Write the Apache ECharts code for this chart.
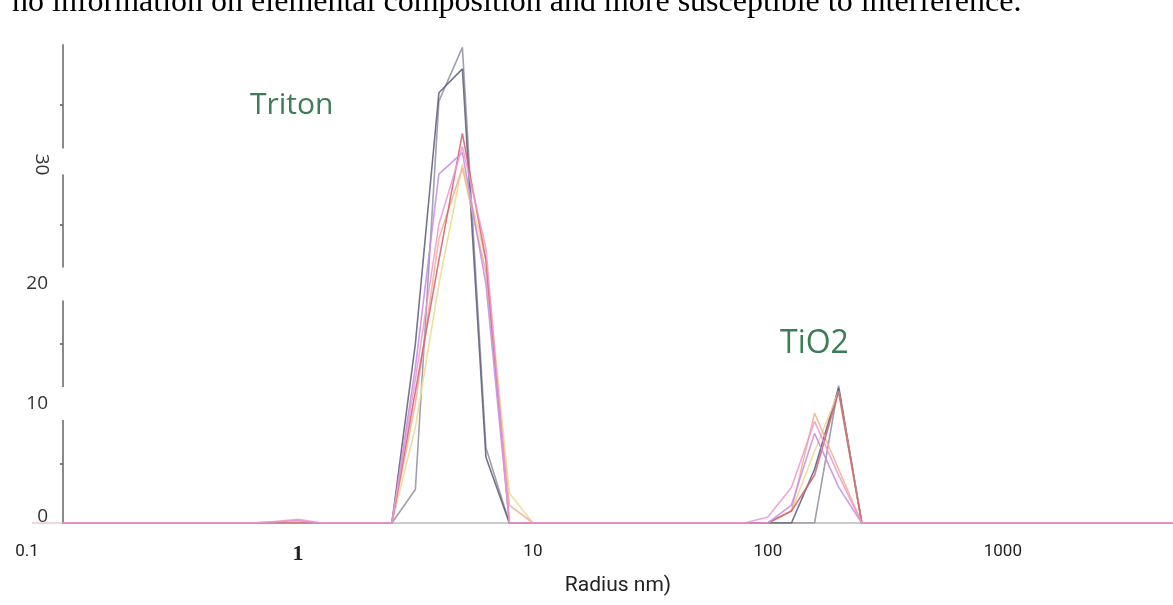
<!DOCTYPE html>
<html>
<head>
<meta charset="utf-8">
<script src="https://cdn.jsdelivr.net/npm/echarts@6/dist/echarts.min.js"></script>
<style>
  html, body { margin: 0; padding: 0; background: #fff; }
  #main { width: 1173px; height: 605px; }
</style>
</head>
<body>
<div id="main"></div>
<script>
// radius bins (nm), shared by all runs
const radius = [0.1, 0.63, 0.79, 1.0, 1.26, 2.51, 3.16, 3.98, 5.01, 6.31, 7.94, 10.0, 79.4, 100, 126, 158, 200, 251, 5300];

// intensity (%) for each run
const runGrey   = [0, 0, 0, 0, 0, 0, 2.8, 35.3, 39.8, 6.3, 0, 0, 0, 0, 0, 0, 11.5, 0, 0];
const runSlate  = [0, 0, 0, 0, 0, 0, 15, 36, 38, 5.5, 0, 0, 0, 0, 0, 4.5, 11.3, 0, 0];
const runRed    = [0, 0, 0, 0, 0, 0, 11, 22, 32.6, 22, 0, 0, 0, 0, 1, 4, 11, 0, 0];
const runOrange = [0, 0, 0, 0, 0, 0, 10, 23.8, 29.7, 21, 1.5, 0, 0, 0, 1, 9.2, 4.5, 0, 0];
const runYellow = [0, 0, 0, 0, 0, 0, 8, 20, 30, 22, 2.5, 0, 0, 0, 1, 6, 11, 0, 0];
const runPink   = [0, 0, 0.1, 0.3, 0, 0, 12, 25, 31.5, 23, 0, 0, 0, 0.5, 3, 8.5, 4, 0, 0];
const runPurple = [0, 0, 0.1, 0.2, 0, 0, 13, 29.2, 31, 20, 0, 0, 0, 0, 1.5, 7.5, 3, 0, 0];

const yTicks = [0, 10, 20, 30, 40];

const runs = [
  { name: 'run1', data: runGrey,   color: 'rgba(150,150,165,0.9)' },
  { name: 'run2', data: runSlate,  color: 'rgba(100,100,125,0.9)' },
  { name: 'run3', data: runYellow, color: 'rgba(235,220,150,0.9)' },
  { name: 'run4', data: runOrange, color: 'rgba(243,178,150,0.9)' },
  { name: 'run5', data: runRed,    color: 'rgba(210,95,110,0.85)' },
  { name: 'run6', data: runPurple, color: 'rgba(195,140,230,0.85)' },
  { name: 'run7', data: runPink,   color: 'rgba(238,150,205,0.85)' }
];

const chart = echarts.init(document.getElementById('main'));

chart.setOption({
  backgroundColor: '#fff',
  animation: false,
  grid: { left: 63, right: 0, top: 45, bottom: 82 },
  xAxis: {
    type: 'log',
    logBase: 10,
    min: 0.1,
    max: 5300,
    name: 'Radius nm)',
    nameLocation: 'middle',
    nameGap: 52,
    nameTextStyle: { fontSize: 21, color: '#222', fontFamily: 'Liberation Sans Narrow, Roboto, sans-serif' },
    axisLine: { lineStyle: { color: '#bbb', width: 1.5 } },
    axisTick: { show: false },
    splitLine: { show: false },
    axisLabel: {
      margin: 20,
      showMaxLabel: false,
      fontSize: 17,
      color: '#222',
      fontFamily: 'Liberation Sans Narrow, Roboto, sans-serif',
      formatter: function (v) {
        if (v < 0.5) return '{a|0.1}';
        if (v > 0.5 && v < 2) return '{b|1}';
        return String(Math.round(v));
      },
      rich: {
        a: { fontSize: 17, color: '#222', padding: [0, 72, 0, 0], fontFamily: 'Liberation Sans Narrow, Roboto, sans-serif' },
        b: { fontSize: 22, color: '#222', fontWeight: 'bold', fontFamily: 'Liberation Serif, serif' }
      }
    }
  },
  yAxis: {
    type: 'value',
    min: yTicks[0],
    max: yTicks[yTicks.length - 1],
    interval: 10,
    axisLine: { show: true, lineStyle: { color: '#8a8a8a', width: 2 } },
    axisTick: { show: false },
    minorTick: { show: true, splitNumber: 2, length: 3, lineStyle: { color: '#777', width: 2 } },
    splitLine: { show: false },
    axisLabel: {
      margin: -4,
      formatter: function (v) {
        if (v === 30 || v === 40) return '';
        if (v === 0) return '{z|0}';
        return '{g|' + v + '}';
      },
      rich: {
        g: { fontSize: 19, color: '#333', fontFamily: 'Open Sans, sans-serif', backgroundColor: '#fff', padding: [7, 19, 7, 0] },
        z: { fontSize: 19, color: '#333', fontFamily: 'Open Sans, sans-serif', padding: [0, 19, 12, 0] }
      }
    }
  },
  series: runs.map(r => ({
    name: r.name,
    type: 'line',
    showSymbol: false,
    lineStyle: { width: 1.6, color: r.color },
    data: radius.map((x, i) => [x, r.data[i]])
  }))
});

// rotated "30" label, baseline stub and the annotations
const p30 = chart.convertToPixel({ gridIndex: 0 }, [0.1, 30]);
const p0 = chart.convertToPixel({ gridIndex: 0 }, [0.1, 0]);
chart.setOption({
  graphic: [
    {
      type: 'line', shape: { x1: 32, y1: p0[1], x2: p0[0], y2: p0[1] },
      style: { stroke: '#e8c8dc', lineWidth: 1.5 }
    },
    {
      type: 'rect', left: 52, top: p30[1] - 16, shape: { width: 16, height: 26 },
      style: { fill: '#fff' }, z: 10
    },
    {
      type: 'text', x: 41, y: p30[1], rotation: -Math.PI / 2,
      style: { text: '30', fontSize: 19, fill: '#333', fontFamily: 'Open Sans, sans-serif', align: 'center', verticalAlign: 'middle' },
      z: 11
    },
    {
      type: 'text', left: 250, top: 90,
      style: { text: 'Triton', fontSize: 30, fill: '#3c7d58', fontFamily: 'Open Sans, sans-serif' }
    },
    {
      type: 'text', left: 780, top: 328,
      style: { text: 'TiO2', fontSize: 32, fill: '#3c7d58', fontFamily: 'Open Sans, sans-serif' }
    },
    {
      type: 'text', left: 12, top: -13,
      style: { text: 'no information on elemental composition and more susceptible to interference.', fontSize: 32, fill: '#000', fontFamily: 'Liberation Serif' }
    }
  ]
});
</script>
</body>
</html>
